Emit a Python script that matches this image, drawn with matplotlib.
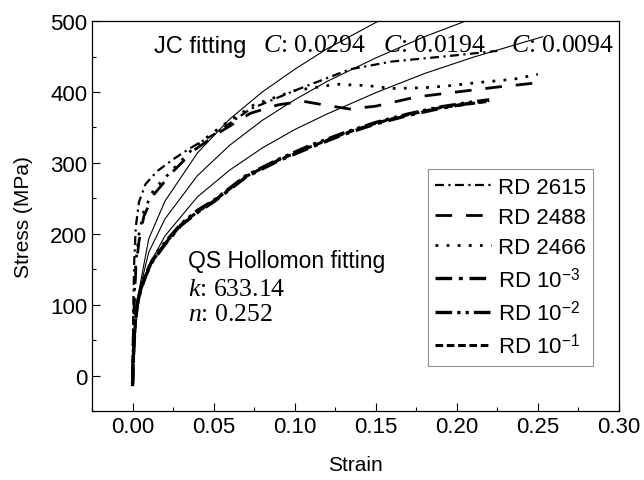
import matplotlib
matplotlib.use('Agg')
import matplotlib.pyplot as plt
from matplotlib.ticker import MultipleLocator

plt.rcParams['font.family'] = ['Liberation Sans', 'DejaVu Sans']
plt.rcParams['mathtext.fontset'] = 'custom'
plt.rcParams['mathtext.rm'] = 'Liberation Serif'
plt.rcParams['mathtext.it'] = 'Liberation Serif:italic'
plt.rcParams['axes.unicode_minus'] = False

rd2615_e = [0.0, 0.0005, 0.001, 0.002, 0.004, 0.008, 0.015, 0.025, 0.035, 0.05,
            0.0727, 0.10, 0.134, 0.16, 0.196, 0.225]
rd2615_s = [15, 100, 160, 210, 245, 270, 288, 305, 320, 340,
            376, 402, 432, 443, 451, 458]

rd2488_e = [0.0, 0.001, 0.002, 0.004, 0.007, 0.013, 0.025, 0.038, 0.055, 0.0727,
            0.09, 0.105, 0.12, 0.134, 0.15, 0.175, 0.20, 0.225, 0.25]
rd2488_s = [0, 100, 150, 190, 225, 255, 288, 318, 345, 370,
            382, 387, 381, 376, 380, 393, 400, 407, 413]

rd2466_e = [0.0, 0.001, 0.002, 0.004, 0.007, 0.013, 0.025, 0.038, 0.055, 0.075,
            0.10, 0.126, 0.145, 0.16, 0.18, 0.196, 0.216, 0.235, 0.25]
rd2466_s = [10, 110, 160, 200, 232, 262, 291, 322, 352, 382,
            402, 411, 409, 405, 406, 409, 414, 418, 425]

qs_e = [0.0, 0.0005, 0.001, 0.002, 0.003, 0.005, 0.008, 0.012, 0.02, 0.03, 0.04,
        0.05, 0.07, 0.09, 0.11, 0.13, 0.15, 0.17, 0.19, 0.21, 0.22]
rd1e3_s = [-15, 20, 50, 80, 100, 120, 140, 160, 185, 212, 230,
           245, 280, 303, 322, 340, 355, 367, 377, 385, 388]
rd1e2_s = [-12, 25, 55, 84, 103, 122, 142, 162, 188, 214, 233,
           247, 282, 305, 325, 342, 357, 369, 379, 386, 389]
rd1e1_s = [-10, 22, 52, 82, 101, 121, 141, 161, 186, 213, 231,
           246, 281, 304, 323, 341, 356, 368, 378, 384, 387]

# ---- JC fitting curves ----
fit1_e = [0.003, 0.01, 0.02, 0.04, 0.06, 0.08, 0.10, 0.12, 0.15, 0.16]
fit1_s = [108, 193, 246, 314, 362, 400, 432, 461, 498, 510]
fit2_e = [0.003, 0.01, 0.02, 0.04, 0.06, 0.08, 0.10, 0.12, 0.15, 0.18, 0.21]
fit2_s = [108, 174, 221, 282, 325, 360, 389, 415, 448, 478, 504]
fit3_e = [0.003, 0.01, 0.02, 0.04, 0.06, 0.08, 0.10, 0.12, 0.15, 0.18, 0.21, 0.253]
fit3_s = [108, 155, 197, 252, 290, 321, 347, 369, 399, 426, 449, 478]

fig = plt.figure(figsize=(6.44, 4.81), dpi=100, facecolor='white')
ax = fig.add_axes([0.1429, 0.1435, 0.8181, 0.8105])

# fitting lines
for e, s in [(fit1_e, fit1_s), (fit2_e, fit2_s), (fit3_e, fit3_s)]:
    ax.plot(e, s, color='black', lw=0.8)

ax.plot(rd2615_e, rd2615_s, color='black', lw=1.6, ls=(0, (4, 2, 1, 2)), label='RD 2615')
ax.plot(rd2488_e, rd2488_s, color='black', lw=2.0, ls=(0, (6, 5)), label='RD 2488')
ax.plot(rd2466_e, rd2466_s, color='black', lw=2.0, ls=(0, (1, 3)), label='RD 2466')
ax.plot(qs_e, rd1e3_s, color='black', lw=2.4, ls=(0, (5, 2, 1.2, 2)),
        label='RD 10$^{\\mathregular{-3}}$')
ax.plot(qs_e, rd1e2_s, color='black', lw=2.4, ls=(0, (5, 1.5, 1, 1.5, 1, 1.5)),
        label='RD 10$^{\\mathregular{-2}}$')
ax.plot(qs_e, rd1e1_s, color='black', lw=2.2, ls=(0, (2.5, 1.2)),
        label='RD 10$^{\\mathregular{-1}}$')

ax.set_xlim(-0.025, 0.30)
ax.set_ylim(-50, 500)
ax.xaxis.set_major_locator(MultipleLocator(0.05))
ax.xaxis.set_minor_locator(MultipleLocator(0.025))
ax.yaxis.set_major_locator(MultipleLocator(100))
ax.yaxis.set_minor_locator(MultipleLocator(50))
ax.xaxis.set_major_formatter(plt.FuncFormatter(lambda v, p: f'{v:.2f}'))
ax.tick_params(which='both', direction='in', labelsize=16, width=0.8)
ax.tick_params(which='major', length=6)
ax.tick_params(which='minor', length=3)
for sp in ax.spines.values():
    sp.set_linewidth(0.9)

ax.set_xlabel('Strain', fontsize=15, labelpad=13)
ax.set_ylabel('Stress (MPa)', fontsize=15, labelpad=12)

ax.text(0.118, 0.965, 'JC fitting', transform=ax.transAxes, fontsize=17,
        va='top', ha='left')
for xf, lab in [(0.325, '0.0294'), (0.553, '0.0194'), (0.796, '0.0094')]:
    ax.text(xf, 0.968, '$\\mathit{C}$: ' + lab, transform=ax.transAxes,
            fontsize=18.5, va='top', ha='left', family='Liberation Serif')

ax.text(0.182, 0.385, 'QS Hollomon fitting', transform=ax.transAxes,
        fontsize=16.5, va='center', ha='left')
ax.text(0.182, 0.312, '$\\mathit{k}$: 633.14', transform=ax.transAxes,
        fontsize=18.5, va='center', ha='left', family='Liberation Serif')
ax.text(0.182, 0.250, '$\\mathit{n}$: 0.252', transform=ax.transAxes,
        fontsize=18.5, va='center', ha='left', family='Liberation Serif')

leg = ax.legend(loc='upper left', bbox_to_anchor=(0.637, 0.62), borderaxespad=0,
                fontsize=16, frameon=True, fancybox=False, handlelength=2.5,
                handletextpad=0.3, labelspacing=0.4, borderpad=0.35)
leg.get_frame().set_edgecolor('#777777')
leg.get_frame().set_linewidth(0.8)

fig.savefig('out.png', dpi=100, facecolor='white')
